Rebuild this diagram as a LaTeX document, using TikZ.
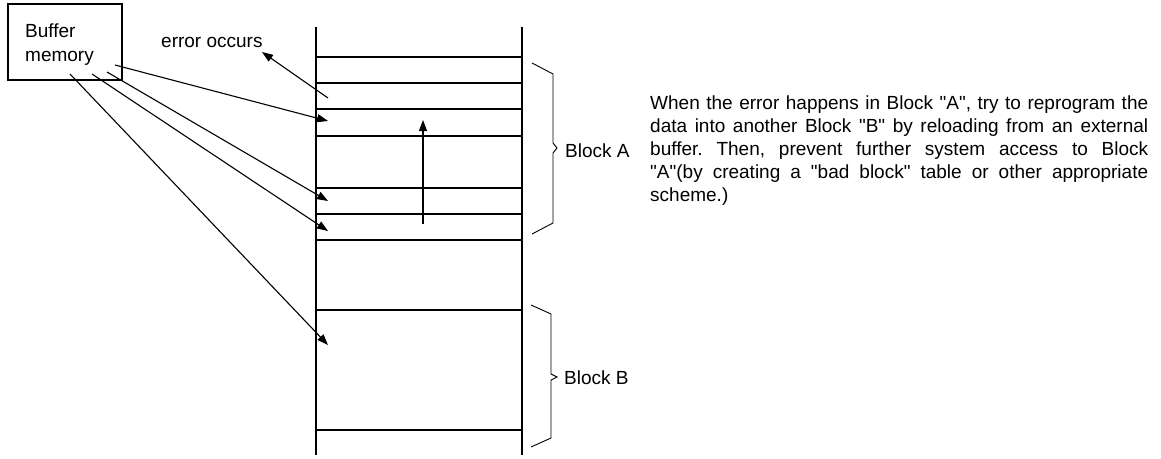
\documentclass[tikz,border=0pt]{standalone}
\usepackage{fontspec}
\setmainfont{Liberation Sans}[Ligatures=TeXOff]
\usetikzlibrary{arrows.meta}
\frenchspacing
\begin{document}
\begin{tikzpicture}[x=1pt,y=-1pt,
  txt/.style={inner sep=0pt,anchor=base west,font=\fontsize{19}{23}\selectfont},
  wall/.style={line width=2pt},
  row/.style={line width=1.8pt},
  arr/.style={line width=1.1pt,-{Triangle[length=11pt,width=8pt]}},
  brace/.style={line width=0.9pt}]
\useasboundingbox (0,0) rectangle (1161,458);
% buffer memory box
\node[draw,line width=1.1pt,minimum width=114pt,minimum height=76pt,inner sep=0pt] (buf) at (65,42) {};
\node[txt] (buft) at (25,37) {Buffer};
\node[txt] (bufm) at (25,61) {memory};
\node[txt] (err) at (161,47) {error occurs};
% memory column
\coordinate (lt) at (316,27); \coordinate (lb) at (316,455);
\coordinate (rt) at (522,27); \coordinate (rb) at (522,455);
\draw[wall] (lt) -- (lb);
\draw[wall] (rt) -- (rb);
\foreach \y in {57,83,109,136,188,214,240,310,430}
  \draw[row] (316,\y) -- (522,\y);
% braces
\draw[brace] (532,63) -- (553,74) -- (553,143) -- (557,148) -- (553,153) -- (553,223) -- (532,234);
\node[txt] (blA) at (565,157) {Block A};
\draw[brace] (531,305) -- (551,314) -- (551,374) -- (557,377) -- (551,380) -- (551,438) -- (531,447);
\node[txt] (blB) at (564,384) {Block B};
% arrow endpoints
\coordinate (s1) at (115,65); \coordinate (t1) at (328,121);
\coordinate (s2) at (107,72); \coordinate (t2) at (328,201);
\coordinate (s3) at (92,74);  \coordinate (t3) at (328,231);
\coordinate (s4) at (70,74);  \coordinate (t4) at (328,345);
\coordinate (e0) at (328,98);
\coordinate (e1) at (262,52);
\coordinate (v0) at (423,224); \coordinate (v1) at (423,120);
\draw[arr] (e0) -- (e1);
\draw[arr] (s1) -- (t1);
\draw[arr] (s2) -- (t2);
\draw[arr] (s3) -- (t3);
\draw[arr] (s4) -- (t4);
\draw[arr] (v0) -- (v1);
% description
\node[inner sep=0pt,anchor=north west,text width=498pt,align=justify,font=\fontsize{19}{23}\selectfont] (desc) at (650,96) {When the error happens in Block "A", try to reprogram the\linebreak
data into another Block "B" by reloading from an external\linebreak
buffer. Then, prevent further system access to Block\linebreak
"A"(by creating a "bad block" table or other appropriate\linebreak
scheme.)};
\end{tikzpicture}
\end{document}
